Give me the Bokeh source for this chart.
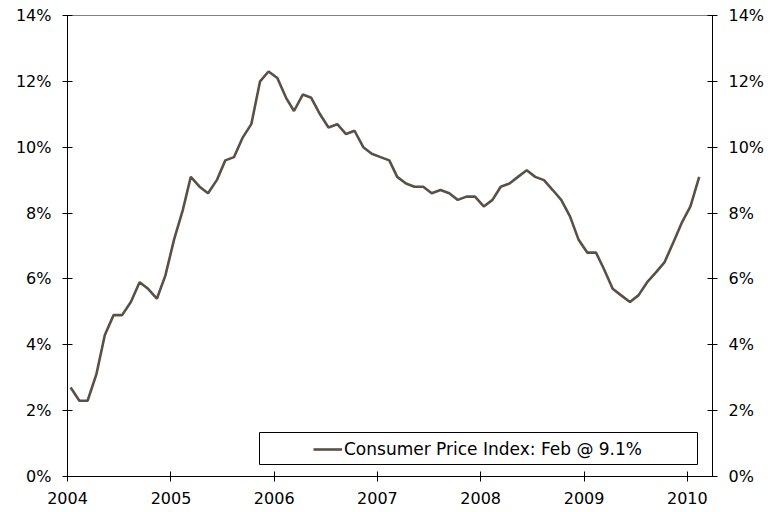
import pandas as pd
from bokeh.plotting import figure
from bokeh.models import (ColumnDataSource, LinearAxis, FixedTicker, PrintfTickFormatter,
                          DatetimeTickFormatter, Range1d, Legend, LegendItem, Label, BoxAnnotation)
from bokeh.embed import file_html
from bokeh.resources import INLINE

# ---- data ----
title_text = "Year-over-Year Percent Change"
series_name = "Consumer Price Index: Feb @ 9.1%"
start_month = "2004-01"
cpi_yoy = [
    2.7, 2.3, 2.3, 3.1, 4.3, 4.9, 4.9, 5.3, 5.9, 5.7, 5.4, 6.1,      # 2004
    7.2, 8.1, 9.1, 8.8, 8.6, 9.0, 9.6, 9.7, 10.3, 10.7, 12.0, 12.3,  # 2005
    12.1, 11.5, 11.1, 11.6, 11.5, 11.0, 10.6, 10.7, 10.4, 10.5, 10.0, 9.8,  # 2006
    9.7, 9.6, 9.1, 8.9, 8.8, 8.8, 8.6, 8.7, 8.6, 8.4, 8.5, 8.5,      # 2007
    8.2, 8.4, 8.8, 8.9, 9.1, 9.3, 9.1, 9.0, 8.7, 8.4, 7.9, 7.2,      # 2008
    6.8, 6.8, 6.3, 5.7, 5.5, 5.3, 5.5, 5.9, 6.2, 6.5, 7.1, 7.7,      # 2009
    8.2, 9.1,                                                        # 2010
]
year_ticks = [2004, 2005, 2006, 2007, 2008, 2009, 2010]
pct_ticks = [0, 2, 4, 6, 8, 10, 12, 14]

dates = pd.date_range(start=start_month, periods=len(cpi_yoy), freq="MS") + pd.Timedelta(days=11)
src = ColumnDataSource(data=dict(date=dates, value=cpi_yoy))

FONT = "DejaVu Sans"
LINE = "#5A5045"

p = figure(width=769, height=513, x_axis_type="datetime",
           output_backend="svg", toolbar_location=None,
           x_range=Range1d(pd.Timestamp("2004-01-01"), pd.Timestamp("2010-03-31")),
           y_range=Range1d(0, 14),
           min_border_left=67, min_border_right=57, min_border_top=17, min_border_bottom=35)
p.styles = {"margin-top": "-2px"}
p.xgrid.visible = False
p.ygrid.visible = False
p.outline_line_color = "#808080"
p.background_fill_color = "white"
p.border_fill_color = "white"

r = p.line("date", "value", source=src, line_color=LINE, line_width=2.6)

# x axis
xa = p.xaxis[0]
xa.ticker = FixedTicker(ticks=[pd.Timestamp(f"{y}-01-01").value / 1e6 for y in year_ticks])
xa.formatter = DatetimeTickFormatter(years="%Y", months="%Y", days="%Y", hours="%Y")
xa.minor_tick_line_color = None

# y axes
ya = p.yaxis[0]
ra = LinearAxis()
p.add_layout(ra, "right")
for ax in (ya, ra):
    ax.ticker = FixedTicker(ticks=pct_ticks)
    ax.formatter = PrintfTickFormatter(format="%d%%")
    ax.minor_tick_line_color = None
    ax.major_label_standoff = 11

for ax in (xa, ya, ra):
    ax.axis_line_color = "black"
    ax.major_tick_line_color = "black"
    ax.major_tick_in = 5
    ax.major_tick_out = 5
    ax.major_label_text_font = FONT
    ax.major_label_text_font_size = "16px"
    ax.major_label_text_color = "black"
xa.major_label_standoff = 10

# legend box + legend
box = BoxAnnotation(left=192, right=630, bottom=12, top=44,
                    left_units="screen", right_units="screen",
                    bottom_units="screen", top_units="screen",
                    fill_color="white", fill_alpha=1.0,
                    line_color="black", line_alpha=1.0, line_width=1)
p.add_layout(box)
legend = Legend(items=[LegendItem(label=series_name, renderers=[r])],
                location=(246, 17), padding=0, margin=0, spacing=0,
                border_line_color=None, background_fill_alpha=0,
                glyph_width=29, label_standoff=2,
                label_text_font=FONT, label_text_font_size="17px", label_text_color="black")
p.add_layout(legend)

title = Label(x=319, y=473, x_units="screen", y_units="screen", text=title_text,
              text_align="center", text_baseline="alphabetic",
              text_font=FONT, text_font_size="16.5px", text_color="black")
p.add_layout(title)

open("out.html", "w").write(file_html(p, INLINE))
